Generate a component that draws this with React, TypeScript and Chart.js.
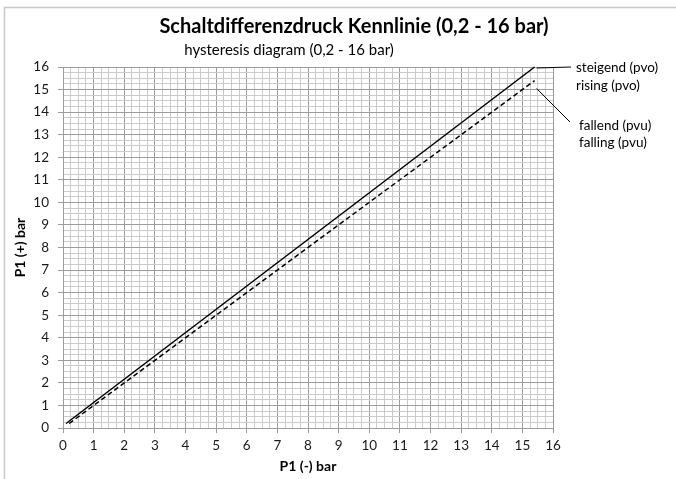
import React, { useEffect, useRef } from "react";
import { Chart, registerables } from "chart.js";

Chart.register(...registerables);

// ---- data ----
const risingX = [0.1, 15.4];
const risingY = [0.2, 16];
const fallingX = [0.2, 15.4];
const fallingY = [0.2, 15.4];

const axisMin = 0;
const axisMax = 16;
const gridStep = 0.25;

const titleText = "Schaltdifferenzdruck Kennlinie (0,2 - 16 bar)";
const subtitleText = "hysteresis diagram (0,2 - 16 bar)";
const xTitleText = "P1 (-) bar";
const yTitleText = "P1 (+) bar";
const risingLabels = ["steigend (pvo)", "rising (pvo)"];
const fallingLabels = ["fallend (pvu)", "falling (pvu)"];

const FONT = "Lato, 'Open Sans', sans-serif";

const tickValues: number[] = [];
for (let i = 0; i <= Math.round((axisMax - axisMin) / gridStep); i++) {
  tickValues.push(axisMin + i * gridStep);
}

const isMajor = (v: number) => Math.abs(v - Math.round(v)) < 1e-9;

const decorPlugin = {
  id: "decor",
  afterDraw(chart: any) {
    const ctx = chart.ctx as CanvasRenderingContext2D;
    const xs = chart.scales.x;
    const ys = chart.scales.y;
    const area = chart.chartArea;
    ctx.save();
    // frame
    ctx.strokeStyle = "#c8c8c8";
    ctx.lineWidth = 1.5;
    ctx.beginPath();
    ctx.moveTo(4.5, 490);
    ctx.lineTo(4.5, 7.5);
    ctx.lineTo(690, 7.5);
    ctx.stroke();

    ctx.fillStyle = "#000";
    ctx.textAlign = "center";
    ctx.textBaseline = "middle";
    ctx.font = `bold 20px ${FONT}`;
    ctx.fillText(titleText, 354, 27);
    ctx.font = `15px ${FONT}`;
    ctx.fillText(subtitleText, 289, 50);

    ctx.font = `bold 14px ${FONT}`;
    ctx.fillText(xTitleText, (area.left + area.right) / 2, 466);
    ctx.save();
    ctx.translate(20, (area.top + area.bottom) / 2);
    ctx.rotate(-Math.PI / 2);
    ctx.fillText(yTitleText, 0, 0);
    ctx.restore();

    // series labels + leaders
    const rEndX = xs.getPixelForValue(risingX[risingX.length - 1]);
    const rEndY = ys.getPixelForValue(risingY[risingY.length - 1]);
    const fEndX = xs.getPixelForValue(fallingX[fallingX.length - 1]);
    const fEndY = ys.getPixelForValue(fallingY[fallingY.length - 1]);

    ctx.strokeStyle = "#000";
    ctx.lineWidth = 1;
    ctx.beginPath();
    ctx.moveTo(rEndX + 2, rEndY + 1);
    ctx.lineTo(571, 67);
    ctx.moveTo(fEndX + 2, fEndY + 8);
    ctx.lineTo(570, 122);
    ctx.stroke();

    ctx.textAlign = "left";
    ctx.font = `13.5px ${FONT}`;
    ctx.fillStyle = "#000";
    ctx.fillText(risingLabels[0], 576, 68);
    ctx.fillText(risingLabels[1], 576, 86);
    ctx.fillText(fallingLabels[0], 579, 126);
    ctx.fillText(fallingLabels[1], 579, 143);
    ctx.restore();
  },
};

function makeScale(axis: "x" | "y") {
  return {
    type: "linear" as const,
    min: axisMin,
    max: axisMax,
    afterBuildTicks: (scale: any) => {
      scale.ticks = tickValues.map((v) => ({ value: v }));
    },
    afterFit: (scale: any) => {
      if (axis === "y") scale.width = 63;
      else scale.height = 51;
    },
    ticks: {
      autoSkip: false,
      maxRotation: 0,
      minRotation: 0,
      padding: axis === "y" ? 9 : 5,
      color: "#1a1a1a",
      font: { family: FONT, size: 13.5 },
      callback: (v: any) => (isMajor(Number(v)) ? String(Math.round(Number(v))) : ""),
    },
    grid: {
      color: (c: any) => (c.tick && isMajor(c.tick.value) ? "#9c9c9c" : "#cbcbcb"),
      tickColor: (c: any) => (c.tick && isMajor(c.tick.value) ? "#9c9c9c" : "rgba(0,0,0,0)"),
      tickLength: 5,
      lineWidth: 1,
      drawTicks: true,
    },
    border: { display: true, color: "#9c9c9c", width: 1 },
  };
}

export default function App() {
  const ref = useRef<HTMLCanvasElement | null>(null);
  useEffect(() => {
    if (!ref.current) return;
    const chart = new Chart(ref.current, {
      type: "scatter",
      data: {
        datasets: [
          {
            label: "steigend (pvo)",
            data: risingX.map((x, i) => ({ x, y: risingY[i] })),
            showLine: true,
            borderColor: "#000",
            borderWidth: 1.5,
            pointRadius: 0,
            clip: false as any,
          },
          {
            label: "fallend (pvu)",
            data: fallingX.map((x, i) => ({ x, y: fallingY[i] })),
            showLine: true,
            borderColor: "#000",
            borderWidth: 1.5,
            borderDash: [5, 3],
            pointRadius: 0,
            clip: false as any,
          },
        ],
      },
      options: {
        responsive: false,
        animation: false,
        devicePixelRatio: 1,
        layout: { padding: { left: 0, top: 67, right: 123, bottom: 0 } },
        plugins: {
          legend: { display: false },
          tooltip: { enabled: false },
          title: { display: false },
        },
        scales: { x: makeScale("x"), y: makeScale("y") } as any,
      },
      plugins: [decorPlugin],
    });
    return () => chart.destroy();
  }, []);
  return (
    <div style={{ position: "absolute", left: 0, top: 0, width: 676, height: 479, background: "#fff" }}>
      <canvas ref={ref} width={676} height={479} style={{ display: "block" }} />
    </div>
  );
}
